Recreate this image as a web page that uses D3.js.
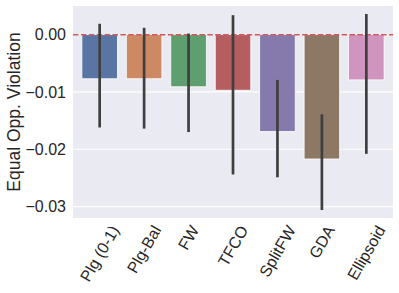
<!DOCTYPE html>
<html>
<head>
<meta charset="utf-8">
<script src="https://cdn.jsdelivr.net/npm/d3@7"></script>
<style>
  body { margin: 0; background: #fff; }
  text { font-family: "Liberation Sans", Arial, sans-serif; fill: #262626; }
</style>
</head>
<body>
<script>
var methods = ["Plg (0-1)", "Plg-Bal", "FW", "TFCO", "SplitFW", "GDA", "Ellipsoid"];
var means = [-0.0077, -0.0077, -0.0091, -0.0097, -0.0169, -0.0217, -0.0079];
var errLow = [-0.0162, -0.0164, -0.0170, -0.0244, -0.0249, -0.0306, -0.0208];
var errHigh = [0.0019, 0.0012, 0.0002, 0.0034, -0.0079, -0.0139, 0.0036];
var colors = ["#5975a4", "#cc8963", "#5f9e6e", "#b55d60", "#857aab", "#8d7866", "#d095bf"];
var yTicks = [0.00, -0.01, -0.02, -0.03];

var width = 399, height = 293;
// plot area (note: "top" is reserved on window, so use plot* names)
var plotL = 73, plotR = 393, plotT = 6, plotB = 218;

var svg = d3.select("body").append("svg")
  .attr("width", width)
  .attr("height", height);

var x = d3.scaleBand().domain(methods).range([plotL, plotR]).padding(0.2);
var y = d3.scaleLinear().domain([0.005, -0.032]).range([plotT, plotB]);

svg.append("rect")
  .attr("x", plotL).attr("y", plotT)
  .attr("width", plotR - plotL).attr("height", plotB - plotT)
  .attr("fill", "#eaeaf2");

// grid
svg.selectAll("line.grid")
  .data(yTicks)
  .enter().append("line")
  .attr("class", "grid")
  .attr("x1", plotL).attr("x2", plotR)
  .attr("y1", function(d) { return y(d); })
  .attr("y2", function(d) { return y(d); })
  .attr("stroke", "#fff").attr("stroke-width", 1.2);

// y axis labels
var yAxis = d3.axisLeft(y).tickValues(yTicks).tickSize(0).tickPadding(7)
  .tickFormat(function(d) { return d3.format(".2f")(d).replace("-", "\u2212"); });
var ya = svg.append("g").attr("transform", "translate(" + plotL + ",0)").call(yAxis);
ya.select(".domain").remove();
ya.selectAll("text").style("font-size", "16px").attr("fill", "#262626");

// bars
svg.selectAll("rect.bar")
  .data(methods)
  .enter().append("rect")
  .attr("class", "bar")
  .attr("x", function(d) { return x(d); })
  .attr("width", x.bandwidth())
  .attr("y", y(0))
  .attr("height", function(d, i) { return y(means[i]) - y(0); })
  .attr("fill", function(d, i) { return colors[i]; })
  .attr("stroke", "#fff").attr("stroke-width", 0.8);

// zero line
svg.append("line")
  .attr("x1", plotL).attr("x2", plotR)
  .attr("y1", y(0)).attr("y2", y(0))
  .attr("stroke", "#d0585a").attr("stroke-width", 1.5)
  .attr("stroke-dasharray", "5.5,2.4");

// error bars
svg.selectAll("line.err")
  .data(methods)
  .enter().append("line")
  .attr("class", "err")
  .attr("x1", function(d) { return x(d) + x.bandwidth() / 2; })
  .attr("x2", function(d) { return x(d) + x.bandwidth() / 2; })
  .attr("y1", function(d, i) { return y(errHigh[i]); })
  .attr("y2", function(d, i) { return y(errLow[i]); })
  .attr("stroke", "#3f3f3f").attr("stroke-width", 2.7);

// x labels, rotated 60 degrees, centered on tick
svg.selectAll("text.xl")
  .data(methods)
  .enter().append("text")
  .attr("class", "xl")
  .style("font-size", "16px")
  .attr("text-anchor", "middle")
  .attr("dominant-baseline", "central")
  .text(function(d) { return d; })
  .each(function(d) {
    var w = this.getComputedTextLength();
    var bh = w * Math.sin(Math.PI / 3) + 16 * Math.cos(Math.PI / 3);
    var cx = x(d) + x.bandwidth() / 2;
    var cy = plotB + 5 + bh / 2;
    d3.select(this).attr("transform", "translate(" + cx + "," + cy + ") rotate(-60)");
  });

// y label
svg.append("text")
  .attr("transform", "translate(14," + ((plotT + plotB) / 2) + ") rotate(-90)")
  .attr("text-anchor", "middle")
  .attr("dominant-baseline", "central")
  .style("font-size", "17.5px")
  .text("Equal Opp. Violation");
</script>
</body>
</html>
